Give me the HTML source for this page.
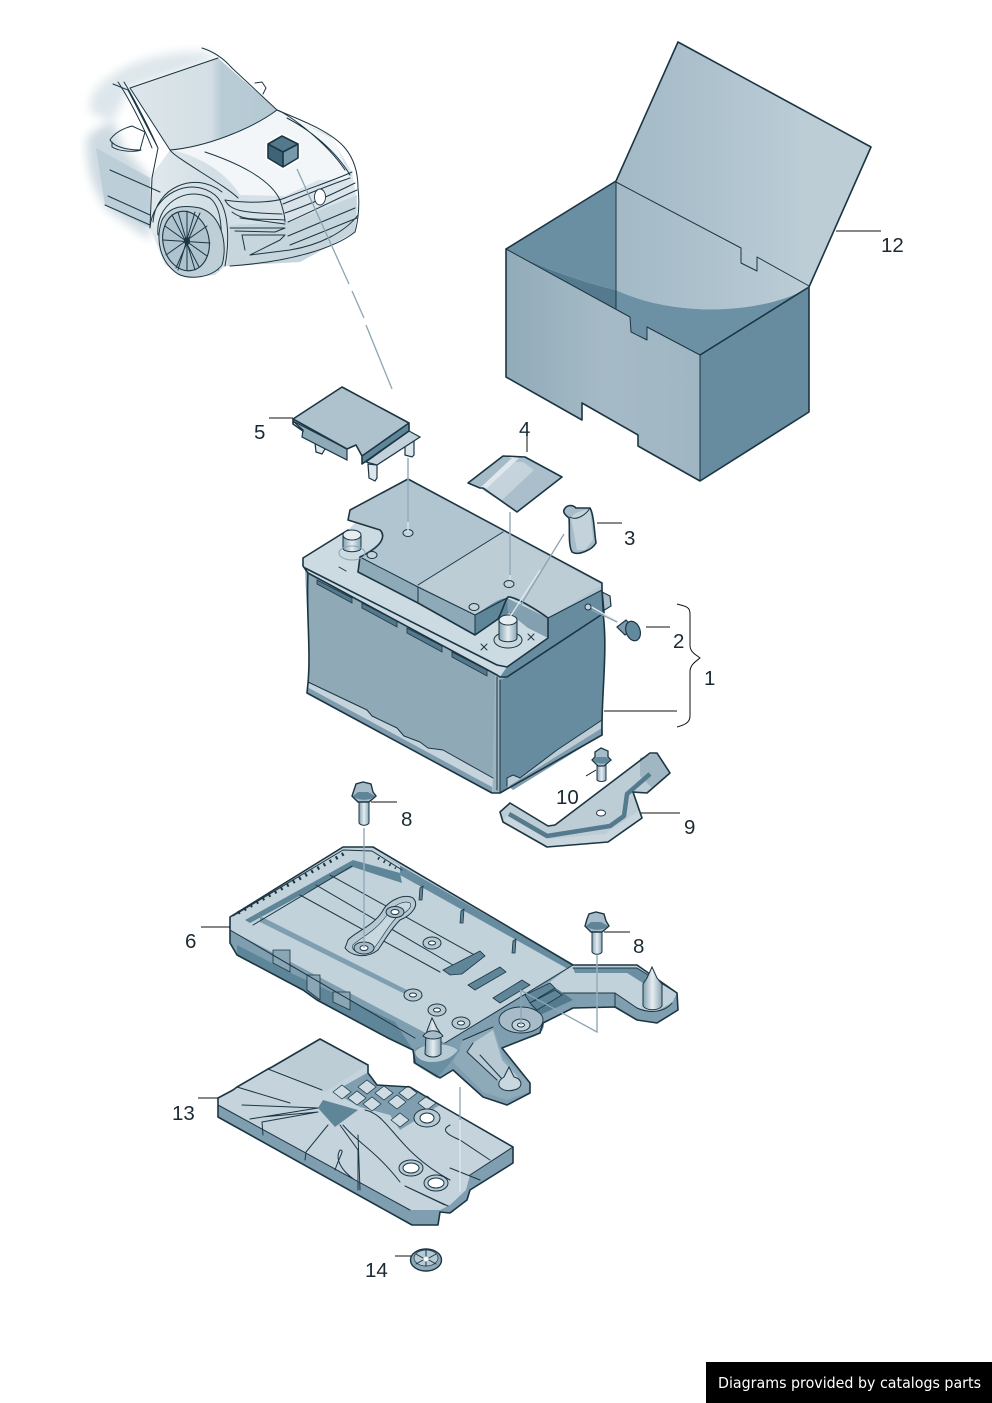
<!DOCTYPE html>
<html><head><meta charset="utf-8"><title>Battery diagram</title>
<style>html,body{margin:0;padding:0;background:#fff}svg{display:block}
text{font-family:"Liberation Sans","DejaVu Sans",sans-serif;fill:#1a2a33}
.l{stroke:#1b3543;stroke-width:1.6;stroke-linejoin:round;stroke-linecap:round}
.t{stroke:#1b3543;stroke-width:1;fill:none;stroke-linecap:round;stroke-linejoin:round}
.k{stroke:#111;stroke-width:1;fill:none}
.d{stroke:#8aa5b4;stroke-width:1.3;fill:none}
.w{stroke:#dfe8ed;stroke-width:1.3;fill:none}
.n{font-size:20.5px}
</style></head><body>
<svg width="992" height="1403" viewBox="0 0 992 1403" xmlns="http://www.w3.org/2000/svg">
<defs>
<linearGradient id="lid" gradientUnits="userSpaceOnUse" x1="616" y1="0" x2="810" y2="0"><stop offset="0" stop-color="#a3b9c6"/><stop offset=".5" stop-color="#aec2ce"/><stop offset="1" stop-color="#bccdd6"/></linearGradient>
<linearGradient id="front" x1="0" y1="0" x2="1" y2="0"><stop offset="0" stop-color="#91abb9"/><stop offset=".5" stop-color="#a5bac6"/><stop offset="1" stop-color="#a0b6c3"/></linearGradient>
<linearGradient id="cyl" x1="0" y1="0" x2="1" y2="0"><stop offset="0" stop-color="#86a2b2"/><stop offset=".5" stop-color="#e6edf1"/><stop offset="1" stop-color="#8ba6b5"/></linearGradient>
<linearGradient id="car" x1="0" y1="0" x2="1" y2="0"><stop offset="0" stop-color="#e1e9ed"/><stop offset=".3" stop-color="#d3dfe5"/><stop offset="1" stop-color="#dce5ea"/></linearGradient>
<linearGradient id="ws" x1="0" y1="0" x2="1" y2="0"><stop offset="0" stop-color="#dde6ea"/><stop offset=".55" stop-color="#d3dfe5"/><stop offset=".62" stop-color="#b9ccd6"/><stop offset="1" stop-color="#b5c9d4"/></linearGradient>
<filter id="b"><feGaussianBlur stdDeviation="5"/></filter>
</defs>

<!-- CAR -->
<g>
<path d="M100 85C125 60 170 50 205 52L220 58 130 88 112 122 90 112C90 100 92 92 100 85Z" fill="#dde6eb" filter="url(#b)"/>
<path d="M88 135L112 120 125 150 152 180 150 240 108 210C92 190 84 160 88 135Z" fill="#cddae1" filter="url(#b)"/>
<path d="M152 175L170 150 277 112 330 135 352 172 358 208 355 232 300 262 225 266 215 275 190 278 165 265 150 228Z" fill="url(#car)"/>
<path d="M172 150C205 147 250 130 277 110L335 140 350 180 318 180 285 196 240 195C225 170 195 155 172 150Z" fill="#f3f6f8"/>
<path d="M230 225L290 222 357 195 355 232 300 262 228 266Z" fill="#c7d6dd"/>
<path d="M130 88L218 58 277 110C250 130 205 147 170 150Z" fill="url(#ws)"/>
<path d="M96 148L150 178 150 228 105 205Z" fill="#b9cbd5" opacity=".85"/>
<g class="t" stroke-width=".9">
<path d="M202 48C215 52 225 60 232 68L277 110C295 118 330 130 345 148 355 160 358 175 358 188 360 205 358 222 355 232 335 248 290 262 230 266"/>
<path d="M130 88L218 58M130 88L170 150C205 147 250 130 277 110"/>
<path d="M113 84L128 90 158 148 152 178 150 228M118 82C130 100 145 130 152 148M124 82C135 100 150 130 158 148"/>
<path d="M170 150C175 158 225 185 238 198M205 152C235 162 270 178 280 200 285 215 285 220 285 222"/>
<path d="M277 110C285 112 325 140 345 170M287 118C310 130 335 150 350 175"/>
<path d="M225 200C250 204 275 202 285 198 310 188 340 178 352 172M283 204C305 195 335 183 350 178M285 213C315 203 345 188 355 183M288 222C315 210 345 195 357 190"/>
<path d="M225 200C230 210 240 213 282 214M232 212C245 222 260 218 285 220M240 218L285 224"/>
<path d="M230 228L285 228 275 232 235 231"/>
<path d="M245 250L242 235 285 235 280 240 250 255 290 250C320 245 345 232 358 215M288 236L355 208M290 245L357 218"/>
<path d="M105 205L150 225M108 196L150 215M110 170L160 192"/>
<path d="M150 228C152 195 190 175 215 195 232 210 228 250 225 266M158 235C155 205 185 185 210 198 225 210 222 245 218 270M153 222C155 188 195 170 222 192"/>
<path d="M132 126L145 132 140 150C130 150 115 148 110 140 115 132 125 128 132 126ZM112 142L112 147C120 152 135 152 141 150"/>
<path d="M255 83L262 82 266 88 263 94"/>
</g>
<ellipse cx="320" cy="197" rx="5.5" ry="8" fill="#fff" stroke="#1b3543" stroke-width=".9"/>
<path d="M162 220C170 205 185 205 200 208 222 215 228 245 222 265 212 278 190 280 178 274 160 262 155 240 162 220Z" fill="#bfcfd8" stroke="#1b3543" stroke-width="1"/>
<ellipse cx="186" cy="241" rx="23" ry="30" transform="rotate(-12 186 241)" fill="#afc3ce" stroke="#1b3543" stroke-width="1.1"/>
<g class="t" stroke-width=".8"><path d="M172 215L199 267M200 213L176 268M163 240L210 243M165 226L207 256M207 226L166 255M187 211L187 270M178 212L195 270M195 212L178 270"/></g>
<ellipse cx="187" cy="241" rx="3" ry="4" fill="#1b3543"/>
<path d="M268 144L282 136 298 144 298 158 283 167 268 158Z" fill="#fff" stroke="#fff" stroke-width="5"/>
<path d="M268 144L282 136 298 144 283 152Z" fill="#54798c"/>
<path d="M268 144L283 152 283 167 268 158Z" fill="#3f6477"/>
<path d="M283 152L298 144 298 158 283 167Z" fill="#7799aa"/>
<path d="M268 144L282 136 298 144 298 158 283 167 268 158ZM268 144L283 152 298 144M283 152V167" fill="none" class="l"/>
</g>
<path class="d" d="M297 169L349 284M352 291L364 318M366 325L392 389"/>

<!-- BOX 12 -->
<g>
<path d="M678 42L871 147 809 287 616 181Z" fill="url(#lid)"/>
<path d="M506 249L616 181 616 290C575 280 535 265 506 249Z" fill="#6b8fa2"/>
<path d="M506 249C535 265 575 280 616 290V312Z" fill="#567a8d"/>
<path d="M616 181L809 287C770 312 680 320 616 290Z" fill="url(#lid)"/>
<path d="M616 290C680 320 770 312 809 287L700 357 647 329 647 342 631 334 630 319 616 311Z" fill="#6c91a5"/>
<path d="M506 249L630 317 631 332 647 340 647 327 700 355 700 481 638 446 638 435 582 403 582 420 506 377Z" fill="url(#front)"/>
<path d="M700 355L809 287 809 412 700 481Z" fill="#678c9f"/>
<path class="l" fill="none" d="M678 42L871 147 809 287 809 412 700 481 638 446 638 435 582 403 582 420 506 377 506 249 616 181M616 181L678 42M700 355L809 287"/>
<path class="t" d="M616 181V309M616 182L741 248 741 263 757 271 757 257 809 286M506 249L630 317 631 332 647 340 647 327 700 355V481"/>
</g>
<path class="k" d="M836 231H881"/>
<text class="n" x="881" y="252">12</text>

<!-- Part 5 -->
<g>
<path d="M315 443L316 452 322 454 325 449 323 447ZM368 464L369 478 375 481 377 478 377 465ZM405 440L405 455 412 457 414 455 414 440Z" fill="#dbe5ea" stroke="#1b3543" stroke-width="1.2"/>
<path d="M293 421L347 449 347 460 302 437 303 430Z" fill="#8ea9b8" stroke="#1b3543" stroke-width="1.2"/>
<path d="M409 431L420 437 377 465 366 462Z" fill="#c3d2da" stroke="#1b3543" stroke-width="1.2"/>
<path d="M293 419L342 387 409 423 362 456 356 445 347 449Z" fill="#aec2cd"/>
<path d="M362 456L409 424 409 431 362 464Z" fill="#5f8598"/>
<path class="l" fill="none" d="M293 419L342 387 409 423 362 456 356 445 347 449ZM293 419V424L303 431M362 456V464L409 431V423"/>
</g>
<path class="k" d="M269 418H293"/>
<text class="n" x="254" y="439">5</text>

<!-- Part 4 -->
<g>
<path d="M468 483L503 456 512 458 480 488Z" fill="#a5bbc7"/>
<path d="M480 488L512 458 525 457 562 477 517 512Z" fill="#aabfcb"/>
<path d="M483 488L512 462 523 462 534 470 502 500Z" fill="#c5d4dc"/>
<path d="M480 488L512 458 519 458 487 488Z" fill="#dfe7ec"/>
<path class="l" fill="none" d="M468 483L503 456 525 457 562 477 517 512 483 488 480 488Z"/>
</g>
<path class="k" d="M527 433V452"/>
<text class="n" x="519" y="436">4</text>

<!-- BATTERY -->
<g>
<path d="M305 565L497 665 497 790 308 690C311 650 306 610 305 565Z" fill="#8fa9b7"/>
<path d="M500 670L603 606C608 650 601 700 603 735L500 793Z" fill="#678c9f"/>
<path d="M495 670L507 677 500 680 500 793 492 793Z" fill="#9db3c0"/>
<path d="M308 682L367 710 372 716 397 728 404 736 420 742 428 748 443 750 493 778 492 793 307 693Z" fill="#c5d4dc"/>
<path d="M307 687L492 787 492 793 307 693Z" fill="#7e9cad"/>
<path d="M507 778L513 775 520 778 557 750 587 730 602 720 602 735 513 790 507 786Z" fill="#bccdd6"/>
<path d="M509 786L602 728 602 735 513 790Z" fill="#7e9cad"/>
<path class="l" fill="none" d="M308 573C306 610 311 650 308 683L307 693 492 793 500 793 602 735C601 700 608 650 603 613"/>
<path class="t" d="M497 677V790M500 680V793M308 682L367 710 372 716 397 728 404 736 420 742 428 748 443 750 493 778M507 786V778L513 775 520 778 557 750 587 730 602 720"/>
<path d="M317 580L352 598 352 603 317 584ZM362 603L397 621 397 627 362 608ZM407 628L442 646 442 652 407 633ZM452 652L487 670 487 676 452 657Z" fill="#54798c" stroke="#1b3543" stroke-width=".8"/>
<path d="M303 558L348 530 358 520 548 618 548 638 507 667 500 677 308 573 303 566Z" fill="#ccdae1"/>
<path d="M548 618L602 588 604 613 507 677 500 677 507 667 548 638Z" fill="#678c9f"/>
<path d="M602 592L610 596 611 606 603 611Z" fill="#a8bdc9" stroke="#1b3543" stroke-width="1.2"/>
<path d="M350 510L408 479 602 583 602 590 548 618 508 597 507 613 475 615 418 587 360 557 383 540 380 530 348 520Z" fill="#b1c5d0"/>
<path d="M418 585L503 532 602 585 548 618 510 597 475 615Z" fill="#bccdd6"/>
<path d="M360 557L418 587 418 603 358 572Z" fill="#8ea9b8"/>
<path d="M418 587L475 615 475 635 418 603Z" fill="#8ea9b8"/>
<path d="M475 615C490 605 500 598 507 598L510 604 509 613 475 635Z" fill="#5f8598"/>
<path d="M507 598L548 618 548 638 528 628 508 612Z" fill="#82a0b0"/>
<path class="l" fill="none" d="M303 558L348 530M303 558V566L308 573 497 675 500 677 507 677 604 613 602 590V583L408 479 350 510 348 520 380 530C385 535 385 545 360 557L358 572 418 603 475 635 498 619C503 610 505 600 508 597 515 596 540 612 548 618V638L507 667 497 665 305 568"/>
<path class="t" d="M360 557L418 587 475 615 507 598M418 587V603M418 585L503 532M475 615V635M548 618L602 590"/>
<path d="M343 535V548C343 553 361 553 361 548V535Z" fill="url(#cyl)" stroke="#1b3543"/>
<ellipse cx="352" cy="535" rx="9" ry="5" fill="#e6edf1" stroke="#1b3543"/>
<ellipse cx="352" cy="553" rx="13" ry="7" fill="none" stroke="#8aa5b4"/>
<ellipse cx="508" cy="640" rx="14" ry="8" fill="#c9d7de" stroke="#1b3543"/>
<path d="M499 620V638C499 643 517 643 517 638V620Z" fill="url(#cyl)" stroke="#1b3543"/>
<ellipse cx="508" cy="620" rx="9" ry="5" fill="#e6edf1" stroke="#1b3543"/>
<g fill="#c5d4dc" stroke="#1b3543"><ellipse cx="372" cy="555" rx="5" ry="3.5"/><ellipse cx="474" cy="607" rx="5" ry="3.5"/><ellipse cx="408" cy="533" rx="5" ry="3.5"/><ellipse cx="509" cy="584" rx="5" ry="3.5"/></g>
<path class="t" d="M339 567L346 571M481 644L487 650M487 644L481 650M528 634L534 640M534 634L528 640"/>
</g>
<path class="w" d="M408 458V532M510 512V580M508 620L540 570"/>
<path class="d" d="M408 458V522M510 512V575M564 534L514 616"/>
<path class="k" d="M604 711H677"/>

<!-- Part 3 -->
<g>
<path d="M564 510C566 505 572 504 576 508L590 508C594 515 594 530 596 543 592 550 578 556 572 552 568 545 570 530 569 518 565 515 563 512 564 510Z" fill="#a7bcc8"/>
<path d="M571 518C575 510 585 512 590 508L593 540 585 550 577 550Z" fill="#c4d3db"/>
<path class="l" fill="none" d="M564 510C566 505 572 504 576 508L590 508C594 515 594 530 596 543 592 550 578 556 572 552 568 545 570 530 569 518 565 515 563 512 564 510Z"/>
<path class="t" d="M570 517C576 521 586 515 590 508"/>
</g>
<path class="k" d="M597 523H622"/>
<text class="n" x="624" y="545">3</text>

<!-- Part 2 screw -->
<path class="w" d="M588 605L618 622"/>
<path class="d" d="M592 610L617 622"/>
<circle cx="588" cy="607" r="3" fill="#c5d4dc" stroke="#1b3543"/>
<g><path d="M617 627L626 620 634 628 625 635Z" fill="#7e9cad" stroke="#1b3543" stroke-width="1.2"/>
<ellipse cx="633" cy="631" rx="7" ry="10" transform="rotate(-20 633 631)" fill="#628a9e" stroke="#1b3543" stroke-width="1.2"/></g>
<path class="k" d="M646 627H670"/>
<text class="n" x="673" y="648">2</text>
<path class="k" d="M677 604C684 606 690 606 690 614V645C690 652 695 654 700 658 695 662 690 665 690 672V716C690 723 684 725 677 727"/>
<text class="n" x="704" y="685">1</text>

<!-- Part 10 bolt -->
<g>
<path d="M597 763H606V780C604 782 599 782 597 780Z" fill="url(#cyl)" stroke="#1b3543"/>
<path d="M595 757L595 752 601 748 608 751 608 757 611 760 604 766 598 766 592 760Z" fill="#a7bcc8" stroke="#1b3543" stroke-width="1.3"/>
<path d="M593 760C597 765 607 765 610 760L606 757 597 757Z" fill="#628a9e"/>
</g>
<path class="k" d="M586 776L596 770"/>
<text class="n" x="556" y="804">10</text>

<!-- Part 9 bracket -->
<g>
<path d="M500 812L510 803 548 826 555 825 650 753 657 753 670 773 647 793 633 792 642 818 608 842 547 847 503 822Z" fill="#bccdd6"/>
<path d="M503 822L547 847 608 842 642 818 640 810 605 834 548 839 507 815Z" fill="#c9d6dd"/>
<path d="M640 758L657 753 670 773 652 788 640 776Z" fill="#a0b6c3"/>
<path fill="none" stroke="#557a8d" stroke-width="4.5" stroke-linejoin="round" d="M509 814L547 836 610 826 624 816 627 794 650 774"/>
<path class="l" fill="none" d="M500 812L510 803 548 826 555 825 650 753 657 753 670 773 647 793 633 792 642 818 608 842 547 847 503 822Z"/>
<ellipse cx="601" cy="813" rx="4.5" ry="3" fill="#fff" stroke="#1b3543"/>
</g>
<path class="k" d="M641 813H680"/>
<text class="n" x="684" y="834">9</text>

<!-- Part 8 top bolt -->
<g>
<path d="M359 800H369V823C367 826 361 826 359 823Z" fill="url(#cyl)" stroke="#1b3543"/>
<path d="M354 790L356 784 363 782 371 784 373 792 376 796 369 802 358 802 352 796Z" fill="#a7bcc8" stroke="#1b3543" stroke-width="1.4"/>
<path d="M353 796C358 801 370 801 375 796L368 792 358 792Z" fill="#5f8598"/>
</g>
<path class="k" d="M371 802H397"/>
<text class="n" x="401" y="826">8</text>

<!-- TRAY 6 -->
<g>
<path d="M230 917L343 847 373 847 573 965 637 965 677 993 678 1010 657 1023 637 1020 615 1007 573 1008 543 1023 540 1033 502 1048 530 1083 530 1093 507 1105 483 1097 453 1070 440 1078 415 1063 413 1050 388 1038 317 1000 303 990 237 955 230 943Z" fill="#7f9eaf"/>
<path d="M230 917L343 847 373 847 573 965 445 1043 420 1030 230 930Z" fill="#c2d2da"/>
<path d="M573 965L637 965 677 993 672 1003 655 1012 637 1008 615 993 563 993 548 983Z" fill="#c2d2da"/>
<path d="M548 983L563 993 573 1000 540 1015 530 1005Z" fill="#557a8d"/>
<path d="M245 920L353 860 400 873 402 883 353 867 250 923Z" fill="#5f8598"/>
<path d="M375 851L573 965 568 969 400 875 400 865Z" fill="#678c9f"/>
<path d="M260 916L407 990 405 994 260 922Z" fill="#7f9eaf"/>
<path d="M573 968L637 968 655 980 646 985 627 973 575 973Z" fill="#6b8fa2"/>
<path d="M237 945L295 975 317 985 395 1022 413 1050 388 1038 317 1000 303 990 237 955Z" fill="#5f8598"/>
<path d="M273 950H290V972L273 963ZM307 975H320V1000L307 990ZM333 992H350V1010L333 1002Z" fill="#8aa6b5" stroke="#1b3543" stroke-width=".8"/>
<!-- front arm -->
<path d="M463 1040L493 1027 503 1057 530 1083 528 1092 507 1100 483 1092 453 1062Z" fill="#8ea9b8"/>
<path d="M473 1043L493 1030 502 1060 518 1077 507 1087 497 1080 467 1052Z" fill="#b7c9d3"/>
<!-- peg base -->
<path d="M413 1053L418 1047 445 1043 460 1050 450 1063 437 1078 413 1063Z" fill="#6a8fa2"/>
<path d="M415 1052C420 1044 445 1040 458 1050 452 1058 442 1062 432 1062 422 1062 416 1058 415 1052Z" fill="#b7c9d3"/>
<!-- cup -->
<ellipse cx="521" cy="1025" rx="23" ry="14" fill="#7f9eaf"/>
<ellipse cx="521" cy="1020" rx="22" ry="13" fill="#a7bcc8" stroke="#1b3543" stroke-width=".9"/>
<path class="l" fill="none" d="M230 917L343 847 373 847 573 965 637 965 677 993 678 1010 657 1023 637 1020 615 1007 573 1008 543 1023 540 1033 502 1048 530 1083 530 1093 507 1105 483 1097 453 1070 440 1078 415 1063 413 1050 388 1038 317 1000 303 990 237 955 230 943Z"/>
<path fill="none" stroke="#1b3543" stroke-width="3.5" stroke-dasharray="2 5" d="M238 913L347 852"/>
<path fill="none" stroke="#1b3543" stroke-width="3" stroke-dasharray="1.5 5" d="M378 858L396 868"/>
<path class="t" d="M233 916L343 850 372 851 402 870M230 930L415 1038M253 925L352 866M445 1043L573 965M573 968L637 968 677 993M615 993V1007M563 993H615L637 1008C650 1014 665 1012 672 1003M463 1040L493 1027M480 1055L503 1080M473 1043L467 1052 497 1080"/>
<path class="t" d="M330 875L480 958M316 885L458 968M300 895L440 972"/>
<g fill="#5f8598" stroke="#1b3543" stroke-width=".8"><path d="M443 970L480 951 485 956 462 974 450 975Z"/><path d="M468 985L500 967 506 972 475 990Z"/><path d="M493 998L522 980 530 985 500 1003Z"/><path d="M420 888L423 886 422 900 419 900ZM461 911L464 909 463 923 460 923ZM513 941L516 939 515 953 512 953Z"/><path d="M525 995L550 983 555 988 530 1003ZM530 1003L555 990 562 995 537 1010Z"/></g>
<path d="M348 940C355 932 372 927 382 912 388 900 405 893 413 898 420 905 412 915 400 920 390 930 385 940 378 950 365 960 350 955 345 948Z" fill="#b7c9d3" stroke="#1b3543"/>
<path d="M353 945C360 938 375 932 387 915 392 905 405 900 410 903 413 908 405 913 396 918 385 930 380 942 374 948 362 955 350 952 353 945Z" fill="#c9d7de" stroke="#1b3543" stroke-width=".6"/>
<g stroke="#1b3543"><ellipse cx="364" cy="948" rx="10" ry="6" fill="#a7bcc8"/><ellipse cx="364" cy="948" rx="4" ry="2.5" fill="#fff"/><ellipse cx="395" cy="912" rx="9" ry="5.5" fill="#a7bcc8"/><ellipse cx="395" cy="912" rx="4" ry="2.5" fill="#fff"/>
<ellipse cx="432" cy="943" rx="9" ry="6" fill="#b7c9d3"/><ellipse cx="432" cy="943" rx="3.5" ry="2" fill="#fff"/><ellipse cx="413" cy="995" rx="9" ry="6" fill="#b7c9d3"/><ellipse cx="413" cy="995" rx="3.5" ry="2" fill="#fff"/><ellipse cx="437" cy="1010" rx="9" ry="6" fill="#b7c9d3"/><ellipse cx="437" cy="1010" rx="3.5" ry="2" fill="#fff"/><ellipse cx="461" cy="1023" rx="9" ry="6" fill="#b7c9d3"/><ellipse cx="461" cy="1023" rx="3.5" ry="2" fill="#fff"/><ellipse cx="521" cy="1025" rx="9" ry="6" fill="#c2d2da"/><ellipse cx="521" cy="1025" rx="3.5" ry="2" fill="#fff"/></g>
<!-- pegs -->
<path d="M426 1034L428 1028 432 1018 437 1028 441 1034V1054C437 1058 429 1058 425 1054Z" fill="url(#cyl)" stroke="#1b3543"/>
<path d="M423 1036C428 1029 438 1029 443 1036 438 1040 428 1040 423 1036Z" fill="#a7bcc8" stroke="#1b3543"/>
<path d="M643 984L647 978 652 967 657 978 662 984V1006C658 1011 647 1011 643 1006Z" fill="url(#cyl)" stroke="#1b3543"/>
<path d="M504 1077L509 1067 514 1077C522 1079 523 1086 517 1089 510 1092 502 1091 499 1086 498 1081 501 1079 504 1077Z" fill="#c9d7de" stroke="#1b3543"/>
</g>
<path class="w" d="M364 860V948M597 955V1030"/>
<path class="d" d="M364 828V948M597 955V1032L520 990M521 992V1025"/>
<path class="k" d="M201 927H230"/>
<text class="n" x="185" y="948">6</text>

<!-- Part 8 right bolt -->
<g>
<path d="M592 930H602V952C600 955 594 955 592 952Z" fill="url(#cyl)" stroke="#1b3543"/>
<path d="M587 919L589 914 596 912 604 914 606 921 609 926 602 932 591 932 585 926Z" fill="#a7bcc8" stroke="#1b3543" stroke-width="1.4"/>
<path d="M586 926C591 931 603 931 608 926L601 922 591 922Z" fill="#5f8598"/>
</g>
<path class="k" d="M604 932H630"/>
<text class="n" x="633" y="953">8</text>

<!-- PART 13 -->
<g>
<path d="M218 1098L233 1090 237 1087 268 1069 272 1067 320 1039 368 1065 368 1073 377 1085 410 1087 440 1105 513 1147 513 1163 470 1190 467 1200 450 1213 440 1212 438 1225 412 1225 218 1117Z" fill="#7f9eaf"/>
<path d="M218 1098L233 1090 237 1087 268 1069 272 1067 320 1039 368 1065 368 1073 377 1085 410 1087 440 1105 513 1147 470 1175 466 1190 450 1205 440 1210 410 1210 218 1105Z" fill="#c5d4dc"/>
<path d="M272 1067L320 1039 368 1065 325 1092Z" fill="#bccdd6"/>
<path d="M333 1092L367 1073 377 1085 410 1087 440 1105 400 1130 390 1115 360 1107Z" fill="#7f9eaf"/>
<path d="M318 1108L323 1100 358 1110 335 1127Z" fill="#5f8598"/>
<g fill="#cfdce3" stroke="#1b3543" stroke-width=".7"><path d="M333 1092L342 1085 351 1092 342 1099Z"/><path d="M348 1098L357 1091 366 1098 357 1105Z"/><path d="M358 1087L367 1080 376 1087 367 1094Z"/><path d="M375 1093L384 1086 393 1093 384 1100Z"/><path d="M399 1093L408 1086 417 1093 408 1100Z"/><path d="M388 1102L397 1095 406 1102 397 1109Z"/><path d="M418 1103L427 1096 436 1103 427 1110Z"/><path d="M363 1104L372 1097 381 1104 372 1111Z"/><path d="M391 1120L400 1113 409 1120 400 1127Z"/></g>
<g class="t"><path d="M242 1105L318 1108 250 1119M262 1117L318 1112M237 1087L290 1103M268 1069L322 1090M263 1135L262 1122 318 1112M305 1160L306 1152 328 1125M358 1135L360 1190M340 1125L358 1150 358 1190M343 1125C360 1145 375 1150 400 1182M365 1110C390 1115 395 1150 450 1180M450 1168L480 1180M405 1186L445 1205M405 1186L448 1206M218 1105L410 1210M470 1175L513 1147M450 1125C440 1130 448 1135 460 1140L490 1160M335 1170C340 1155 345 1150 340 1150 335 1158 340 1170 355 1180"/></g>
<g stroke="#1b3543"><ellipse cx="427" cy="1118" rx="13" ry="9" fill="#b7c9d3"/><ellipse cx="427" cy="1118" rx="7" ry="5" fill="#fff"/><ellipse cx="411" cy="1168" rx="12" ry="8" fill="#b7c9d3"/><ellipse cx="411" cy="1168" rx="8" ry="5" fill="#fff"/><ellipse cx="436" cy="1183" rx="12" ry="8" fill="#b7c9d3"/><ellipse cx="436" cy="1183" rx="8" ry="5" fill="#fff"/></g>
<path class="l" fill="none" d="M218 1098L233 1090 237 1087 268 1069 272 1067 320 1039 368 1065 368 1073 377 1085 410 1087 440 1105 513 1147 513 1163 470 1190 467 1200 450 1213 440 1212 438 1225 412 1225 218 1117Z"/>
</g>
<path class="w" d="M460 1120V1192"/>
<path class="d" d="M460 1087V1120"/>
<path class="k" d="M198 1098H218"/>
<text class="n" x="172" y="1120">13</text>

<!-- Part 14 -->
<g>
<ellipse cx="426" cy="1260" rx="15.5" ry="11" fill="#8fa9b7" stroke="#1b3543" stroke-width="1.4"/>
<ellipse cx="426" cy="1258" rx="12" ry="8" fill="#b7c9d3" stroke="#1b3543" stroke-width=".7"/>
<ellipse cx="426" cy="1259" rx="2.5" ry="2" fill="#fff"/>
<path class="t" d="M426 1250V1256M426 1262V1266M416 1254L423 1258M436 1264L429 1260M436 1254L429 1258M416 1264L423 1260"/>
</g>
<path class="k" d="M395 1256H411"/>
<text class="n" x="365" y="1277">14</text>

<!-- footer -->
<rect x="706" y="1362" width="286" height="41" fill="#000"/>
<text x="718" y="1388" font-size="15" textLength="263" lengthAdjust="spacingAndGlyphs" style="fill:#fff;font-family:'DejaVu Sans',sans-serif">Diagrams provided by catalogs parts</text>
</svg>
</body></html>
